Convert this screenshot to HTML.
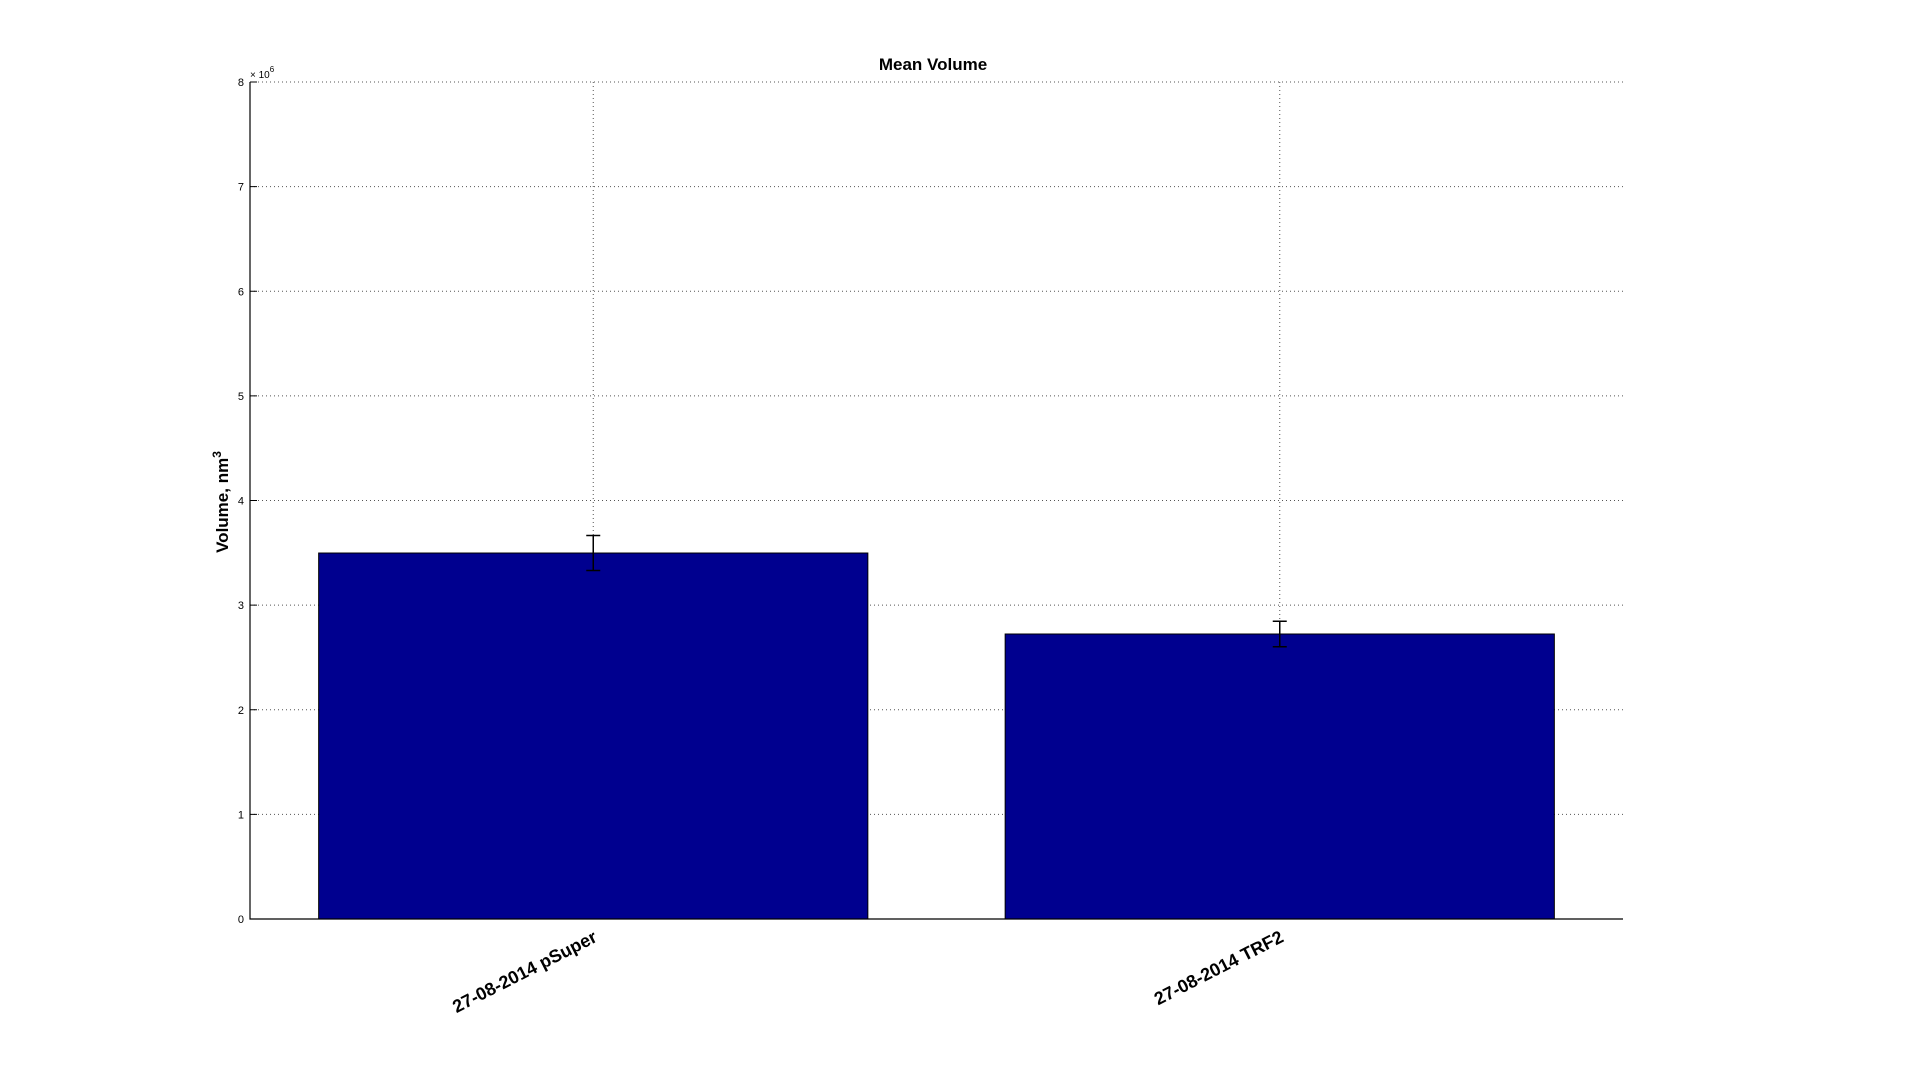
<!DOCTYPE html>
<html><head><meta charset="utf-8"><style>
html,body{margin:0;padding:0;background:#fff;}
svg{display:block;font-family:"Liberation Sans",Arial,sans-serif;}
</style></head><body>
<svg id="chart" width="1920" height="1092">
<rect width="1920" height="1092" fill="#fff"/>
<g id="grid"></g><g id="bars"></g><g id="axes"></g>
</svg>
<script>
const categories = ["27-08-2014 pSuper", "27-08-2014 TRF2"];
const values = [3.498, 2.724];
const errors = [0.167, 0.122];
const yTicks = [0,1,2,3,4,5,6,7,8];

const L=250,R=1623,T=82,B=919;
const NS="http://www.w3.org/2000/svg";
const y=v=>B-(v/8)*(B-T);
const x=i=>L+(i+0.5)/categories.length*(R-L);
const bw=0.8*(R-L)/categories.length;
function mk(tag,attrs,parent){const e=document.createElementNS(NS,tag);for(const k in attrs)e.setAttribute(k,attrs[k]);parent.appendChild(e);return e;}
const grid=document.getElementById('grid'),bars=document.getElementById('bars'),axes=document.getElementById('axes');

yTicks.forEach(t=>{
  if(t>0){const g=mk('line',{x1:L,x2:R,y1:y(t),y2:y(t),stroke:'#555','stroke-width':1,'stroke-dasharray':'1,3'},grid);
  
  }
  const tk=mk('line',{x1:L,x2:L+7,y1:y(t),y2:y(t),stroke:'#000'},axes);
  
  
  const lb=mk('text',{x:L-6,y:y(t)+4,'font-size':11,'text-anchor':'end',fill:'#000'},axes);
  lb.textContent=t;
  
  
});
categories.forEach((c,i)=>{
  const g=mk('line',{x1:x(i),x2:x(i),y1:T,y2:B,stroke:'#555','stroke-width':1,'stroke-dasharray':'1,3'},grid);
  
  
  const r=mk('rect',{x:x(i)-bw/2,y:y(values[i]),width:bw,height:B-y(values[i]),fill:'#00008f',stroke:'#000','stroke-width':1},bars);
  
  
  const e1=y(values[i]+errors[i]),e2=y(values[i]-errors[i]);
  const eb=mk('path',{d:`M${x(i)},${e1}V${e2}M${x(i)-7},${e1}h14M${x(i)-7},${e2}h14`,stroke:'#000','stroke-width':1.5,fill:'none'},bars);
  
  
  const lb=mk('text',{x:0,y:0,'font-size':18,'font-weight':'bold','text-anchor':'end',transform:`translate(${x(i)+5},${B+22}) rotate(-27)`},axes);
  lb.textContent=c;
  
  
});
const ax=mk('path',{d:`M${L},${T}V${B}H${R}`,stroke:'#000','stroke-width':1.2,fill:'none'},axes);


</script>
<svg style="position:absolute;left:0;top:0" width="1920" height="1092">
<text x="933" y="70" font-size="17" font-weight="bold" text-anchor="middle">Mean Volume</text>
<text x="250" y="78" font-size="10">× 10<tspan dy="-6" font-size="8">6</tspan></text>
<text transform="translate(228,502) rotate(-90)" font-size="17" font-weight="bold" text-anchor="middle">Volume, nm<tspan dy="-7" font-size="12">3</tspan></text>
</svg>
</body></html>
